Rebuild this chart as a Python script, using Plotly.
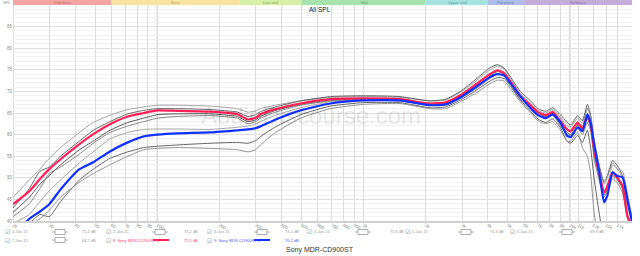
import math
import plotly.graph_objects as go

# ---------------- data ----------------
FREQ = [20, 24, 27, 30, 34, 42, 49, 59, 72, 86, 100, 125, 180, 245, 275, 300, 316, 375, 495, 690,
        1000, 1500, 2100, 2500, 2950, 3500, 4100, 4450, 4800, 5150, 5750, 6450, 7000, 7650, 8250,
        9000, 9700, 10100, 10900, 11500, 12150, 12600, 13100, 13850, 14650, 15200, 16100, 17000,
        18000, 19000, 20000]

R_SPL = [43.9, 46.9, 49.7, 52.0, 54.3, 57.8, 60.1, 62.4, 64.2, 65.0, 65.6, 65.5, 65.3, 64.7, 63.5,
         63.9, 64.7, 65.9, 67.2, 68.2, 68.4, 68.2, 67.2, 67.5, 69.1, 71.6, 74.0, 74.9, 74.2, 72.3,
         68.9, 66.8, 65.2, 64.5, 65.2, 63.1, 61.2, 60.8, 62.8, 61.4, 64.3, 62.4, 56.6, 51.2, 46.6,
         48.1, 51.2, 50.0, 48.1, 41.2, 39.0]
L_SPL = [37.0, 40.5, 42.2, 43.9, 47.3, 52.0, 53.6, 56.1, 58.2, 59.6, 60.0, 60.3, 60.5, 61.0, 61.2,
         61.5, 61.9, 63.5, 65.6, 67.2, 67.9, 67.9, 66.8, 67.0, 68.6, 71.0, 73.3, 74.0, 73.7, 71.9,
         68.9, 66.1, 64.5, 63.8, 64.7, 62.8, 59.7, 59.4, 61.7, 60.8, 64.7, 62.8, 57.8, 51.5, 44.3,
         45.9, 51.3, 50.4, 50.1, 45.0, 39.9]
JAN1 = [45.5, 49.5, 52.0, 54.5, 57.0, 60.5, 62.8, 64.5, 65.8, 66.4, 66.8, 66.8, 66.6, 66.0, 65.2,
        65.5, 66.0, 66.8, 67.8, 68.6, 68.8, 68.6, 67.8, 68.0, 69.8, 72.4, 75.0, 75.8, 75.2, 73.0,
        69.5, 67.2, 65.6, 65.0, 65.8, 64.0, 62.0, 61.8, 63.8, 62.6, 66.2, 64.0, 58.0, 52.5, 48.5,
        50.0, 53.5, 52.0, 50.0, 43.0, 40.0]
JAN2 = [42.0, 45.5, 48.5, 50.5, 53.0, 56.5, 58.5, 61.0, 62.8, 63.8, 64.6, 64.8, 64.8, 64.2, 63.0,
        63.4, 64.2, 65.6, 67.0, 68.0, 68.2, 68.0, 67.0, 67.3, 68.8, 71.0, 73.5, 74.6, 74.0, 72.0,
        68.6, 66.5, 65.0, 64.2, 64.8, 62.5, 60.5, 60.0, 62.2, 60.8, 63.6, 61.8, 55.8, 50.5, 46.0,
        47.5, 50.5, 49.5, 47.5, 41.0, 38.5]
JAN3 = [41.0, 44.0, 47.5, 51.0, 52.5, 55.5, 58.0, 60.5, 62.0, 63.0, 63.8, 64.2, 64.4, 63.8, 62.5,
        63.0, 63.8, 65.2, 66.8, 67.8, 68.0, 67.8, 66.8, 67.0, 68.5, 70.6, 73.0, 74.0, 73.6, 71.6,
        68.2, 66.2, 64.8, 64.0, 64.5, 62.0, 60.0, 59.8, 61.6, 60.0, 62.8, 61.0, 54.5, 49.5, 45.5,
        47.0, 49.8, 48.8, 46.5, 40.5, 38.0]
JAN4 = [43.0, 47.5, 51.5, 52.5, 55.0, 58.5, 61.0, 63.0, 64.8, 65.6, 66.0, 66.0, 65.8, 65.2, 64.2,
        64.6, 65.3, 66.4, 67.8, 68.8, 69.0, 68.8, 67.8, 68.2, 70.0, 72.8, 75.5, 76.2, 75.4, 73.4,
        70.0, 67.8, 66.0, 65.4, 66.2, 64.6, 62.8, 62.2, 64.4, 63.2, 67.0, 64.6, 58.5, 53.0, 49.0,
        50.5, 54.0, 52.8, 50.5, 44.0, 40.5]
JAN5 = [39.5, 41.5, 44.5, 47.0, 49.5, 53.5, 56.0, 59.0, 60.5, 61.2, 61.3, 61.3, 61.2, 61.7, 62.0,
        62.4, 63.0, 64.5, 66.2, 67.6, 68.2, 68.2, 67.2, 67.4, 69.2, 71.8, 74.2, 74.8, 74.5, 72.6,
        69.5, 66.6, 65.0, 64.5, 65.5, 63.8, 61.0, 60.6, 63.0, 62.0, 66.0, 64.2, 59.0, 53.0, 46.0,
        47.5, 53.0, 52.0, 51.5, 46.5, 41.0]
JAN6 = [38.0, 39.5, 41.5, 41.0, 44.5, 49.5, 52.0, 54.5, 56.0, 57.0, 57.3, 57.6, 58.0, 58.2, 58.0,
        58.6, 59.5, 61.8, 64.6, 66.6, 67.4, 67.4, 66.2, 66.4, 68.0, 70.2, 72.4, 73.2, 73.0, 71.2,
        68.0, 65.4, 63.6, 62.8, 63.6, 61.6, 58.4, 58.0, 59.8, 58.2, 61.0, 57.0, 50.0, 42.0, 36.0,
        36.0, 36.0, 36.0, 36.0, 36.0, 36.0]
JAN7 = [37.0, 39.0, 40.5, 42.5, 45.5, 49.0, 51.0, 53.0, 55.0, 56.5, 56.8, 57.0, 56.8, 56.5, 56.0,
        56.5, 57.6, 60.5, 63.8, 66.0, 67.0, 67.2, 66.0, 66.0, 67.6, 69.6, 71.8, 72.6, 72.4, 70.6,
        67.6, 65.0, 63.2, 62.5, 63.0, 61.0, 58.5, 58.5, 60.5, 57.0, 55.0, 51.0, 42.0, 36.0, 36.0,
        36.0, 36.0, 36.0, 36.0, 36.0, 36.0]

GRAY_SERIES = [JAN1, JAN2, JAN3, JAN4, JAN5, JAN6, JAN7]
GRAY_NAMES = ["1-Jan-15", "2-Jan-15", "3-Jan-15", "4-Jan-15", "5-Jan-15", "6-Jan-15", "7-Jan-15"]
GRAY_DB = ["75.2 dB", "74.2 dB", "74.4 dB", "75.6 dB", "71.3 dB", "69.9 dB", "68.2 dB"]
GRAY_COLORS = ["#9a9a9a", "#444444", "#777777", "#555555", "#9a9a9a", "#555555", "#888888"]
R_NAME, R_DB = "8: Sony MDR-CD900ST R", "75.1 dB"
L_NAME, L_DB = "9: Sony MDR-CD900ST L", "70.2 dB"

BANDS = [("Sub-bass", 20, 60), ("Bass", 60, 250), ("Low mid", 250, 500), ("Mid", 500, 2000),
         ("Upper mid", 2000, 4000), ("Presence", 4000, 6000), ("Brilliance", 6000, 20000)]
BAND_FILL = ["#f5a3a3", "#f9e3a3", "#d6efa6", "#a6e3ad", "#a6e3e0", "#aebde9", "#c3acd9"]
BAND_TEXT = ["#b86a6a", "#b8a060", "#8aa860", "#60a068", "#5fa09d", "#6878a8", "#8a70a0"]

X_TICKS = [20, 30, 40, 50, 60, 70, 80, 90, 100, 200, 300, 400, 500, 600, 700, 800, 900, 1000,
           2000, 3000, 4000, 5000, 6000, 7000, 8000, 9000, 10000, 11000, 13000, 15000, 17000, 20000]
X_LABELS = ["20", "30", "40", "50", "60", "70", "80", "90", "100", "200", "300", "400", "500",
            "600", "700", "800", "900", "1k", "2k", "3k", "4k", "5k", "6k", "7k", "8k", "9k",
            "10k", "11k", "13k", "15k", "17k", "20kHz"]
Y_TICKS = [40, 45, 50, 55, 60, 65, 70, 75, 80, 85]

TITLE = "All SPL"
CAPTION = "Sony MDR-CD900ST"
WATERMARK = "AudioDiscourse.com"

# ---------------- layout helpers ----------------
W, H = 640, 256
ML, MR, MT, MB = 13, 8, 5, 35
PW, PH = W - ML - MR, H - MT - MB
FONT = "Liberation Sans, Arial, sans-serif"


def px(x):
    return (x - ML) / PW


def py(y):
    return (H - MB - y) / PH


fig = go.Figure()
for vals, name, col in zip(GRAY_SERIES, GRAY_NAMES, GRAY_COLORS):
    fig.add_trace(go.Scatter(x=FREQ, y=vals, mode="lines", name=name,
                             line=dict(color=col, width=0.9, shape="spline", smoothing=0.5)))
fig.add_trace(go.Scatter(x=FREQ, y=R_SPL, mode="lines", name=R_NAME,
                         line=dict(color="#ff1f55", width=2.2, shape="spline", smoothing=0.5)))
fig.add_trace(go.Scatter(x=FREQ, y=L_SPL, mode="lines", name=L_NAME,
                         line=dict(color="#1030ff", width=2.2, shape="spline", smoothing=0.5)))

shapes = []
annotations = []

# frequency bands on top
for (label, f0, f1), fill, tcol in zip(BANDS, BAND_FILL, BAND_TEXT):
    shapes.append(dict(type="rect", xref="x", yref="paper", x0=f0, x1=f1, y0=1.0, y1=1.0 + 5 / PH,
                       fillcolor=fill, line=dict(width=0), layer="above"))
    annotations.append(dict(xref="x", yref="paper", x=math.log10(math.sqrt(f0 * f1)), y=1.0 + 2.6 / PH,
                            text=label, showarrow=False, font=dict(size=4, color=tcol, family=FONT),
                            xanchor="center", yanchor="middle"))

# darker decade gridlines
for f in [20, 100, 1000, 10000]:
    shapes.append(dict(type="line", xref="x", yref="paper", x0=f, x1=f, y0=0, y1=1,
                       line=dict(color="#b5b5b5", width=1), layer="below"))

annotations.append(dict(xref="paper", yref="paper", x=px(320), y=py(10), text=TITLE, showarrow=False,
                        font=dict(size=6.5, color="#222", family=FONT), xanchor="center", yanchor="middle"))
annotations.append(dict(xref="paper", yref="paper", x=px(1), y=py(2), text="SPL", showarrow=False,
                        font=dict(size=4, color="#888", family=FONT), xanchor="left", yanchor="middle"))
annotations.append(dict(xref="paper", yref="paper", x=px(311), y=py(115), text=WATERMARK, showarrow=False,
                        font=dict(size=24, color="rgba(0,0,0,0.1)", family=FONT),
                        xanchor="center", yanchor="middle"))
annotations.append(dict(xref="paper", yref="paper", x=px(320), y=py(250), text=CAPTION, showarrow=False,
                        font=dict(size=7, color="#333", family=FONT), xanchor="center", yanchor="middle"))


# legend rows
def legend_entry(x0, yrow, name, db, col, icon_x, db_x, line_col=None):
    annotations.append(dict(xref="paper", yref="paper", x=px(x0), y=py(yrow), text="☑", showarrow=False,
                            font=dict(size=6, color="#888", family="DejaVu Sans"),
                            xanchor="left", yanchor="middle"))
    annotations.append(dict(xref="paper", yref="paper", x=px(x0 + 7), y=py(yrow), text=name, showarrow=False,
                            font=dict(size=4, color=col, family=FONT), xanchor="left", yanchor="middle"))
    if line_col is None:
        shapes.append(dict(type="line", xref="paper", yref="paper", x0=px(icon_x - 8), x1=px(icon_x + 8),
                           y0=py(yrow), y1=py(yrow), line=dict(color="#999", width=0.8)))
        shapes.append(dict(type="rect", xref="paper", yref="paper", x0=px(icon_x - 5), x1=px(icon_x + 5),
                           y0=py(yrow + 2.5), y1=py(yrow - 2.5), fillcolor="white",
                           line=dict(color="#999", width=0.8)))
    else:
        shapes.append(dict(type="line", xref="paper", yref="paper", x0=px(icon_x - 8), x1=px(icon_x + 8),
                           y0=py(yrow), y1=py(yrow), line=dict(color=line_col, width=2)))
    annotations.append(dict(xref="paper", yref="paper", x=px(db_x), y=py(yrow), text=db, showarrow=False,
                            font=dict(size=4, color=col, family=FONT), xanchor="left", yanchor="middle"))


ROW1_X = [3, 104, 205, 305, 403, 508]
ROW1_ICON = [60, 160, 262, 363, 466, 567]
ROW1_DB = [80, 182, 283, 388, 488, 588]
for i in range(6):
    legend_entry(ROW1_X[i], 232, GRAY_NAMES[i], GRAY_DB[i], "#999", ROW1_ICON[i], ROW1_DB[i])
legend_entry(3, 240, GRAY_NAMES[6], GRAY_DB[6], "#999", 60, 80)
legend_entry(104, 240, R_NAME, R_DB, "#ff4070", 161, 182, line_col="#ff1f55")
legend_entry(205, 240, L_NAME, L_DB, "#4a5aff", 262, 283, line_col="#1030ff")

fig.update_layout(
    width=W, height=H, margin=dict(l=ML, r=MR, t=MT, b=MB),
    paper_bgcolor="white", plot_bgcolor="white", showlegend=False,
    font=dict(family=FONT),
    shapes=shapes, annotations=annotations,
    xaxis=dict(type="log", range=[math.log10(20), math.log10(20000)], tickvals=X_TICKS, ticktext=X_LABELS,
               tickfont=dict(size=4.5, color="#888"), showgrid=True, gridcolor="#dcdcdc", gridwidth=1,
               showline=True, linecolor="#d0d0d0", linewidth=2, zeroline=False, ticks="", ticklen=0,
               ticklabelstandoff=-2),
    yaxis=dict(range=[40, 90], tickvals=Y_TICKS, tickfont=dict(size=4.5, color="#888"),
               showgrid=True, gridcolor="#dedede", gridwidth=1, zeroline=False, ticks="",
               minor=dict(dtick=1, showgrid=True, gridcolor="#f1f1f1", gridwidth=1),
               showline=False),
)

fig.write_html("out.html")
